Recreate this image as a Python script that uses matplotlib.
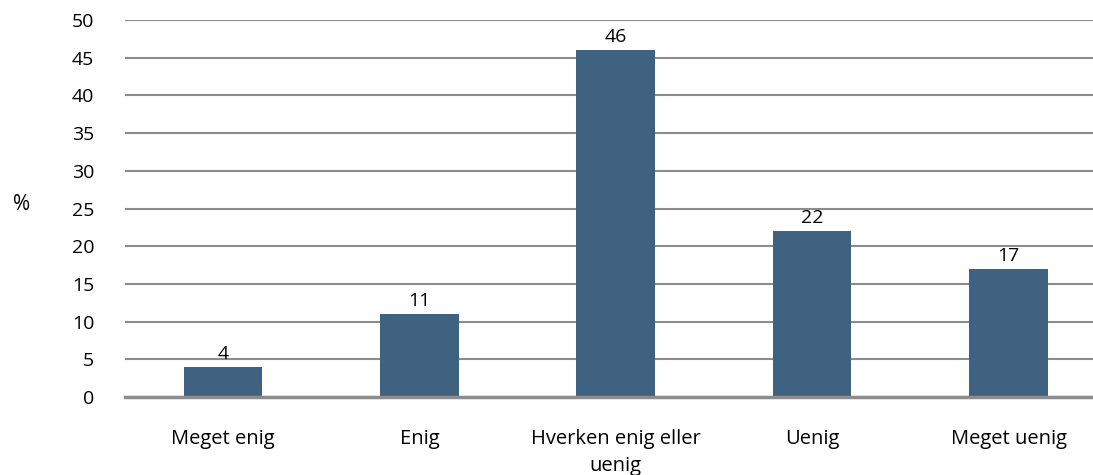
import matplotlib
matplotlib.use("Agg")
import matplotlib.pyplot as plt

categories = ["Meget enig", "Enig", "Hverken enig eller\nuenig", "Uenig", "Meget uenig"]
values = [4, 11, 46, 22, 17]
yticks = [0, 5, 10, 15, 20, 25, 30, 35, 40, 45, 50]

plt.rcParams['font.family'] = ['Open Sans', 'DejaVu Sans']

fig = plt.figure(figsize=(10.93, 4.75), dpi=100)
left = 124.8 / 1093
right = 1106.7 / 1093
bottom = (475 - 397) / 475
top = (475 - 20) / 475
ax = fig.add_axes([left, bottom, right - left, top - bottom])

x = list(range(len(categories)))
ax.bar(x, values, width=0.4, color="#3f6280", zorder=3)
ax.set_xlim(-0.5, len(categories) - 0.5)
ax.set_ylim(0, 50)
ax.set_yticks(yticks)
ax.set_yticklabels([str(t) for t in yticks], fontsize=14)
ax.yaxis.grid(True, color="#8c8c8c", linewidth=1.5, zorder=0)
ax.set_axisbelow(True)
for s in ax.spines.values():
    s.set_visible(False)
ax.axhline(0, color="#8c8c8c", linewidth=2.5, zorder=4, clip_on=False)
ax.tick_params(axis="both", length=0)
ax.tick_params(axis="y", pad=22)
ax.set_xticks(x)
ax.set_xticklabels(categories, fontsize=14.5, linespacing=1.45)
ax.tick_params(axis="x", pad=23)

for xi, v in zip(x, values):
    ax.annotate(str(v), (xi, v), xytext=(0, 3), textcoords="offset points",
                ha="center", va="bottom", fontsize=14)

fig.text(22 / 1093, 1 - 205 / 475, "%", fontsize=15, ha="center", va="center")

fig.savefig("out.png", dpi=100)
